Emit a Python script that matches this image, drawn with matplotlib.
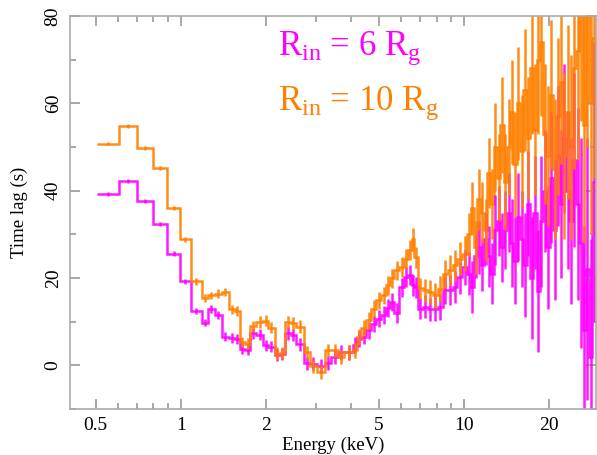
import numpy as np
import matplotlib
matplotlib.use('Agg')
import matplotlib.pyplot as plt
from matplotlib.ticker import FixedLocator, NullFormatter, MultipleLocator

plt.rcParams['font.family'] = ['Liberation Serif', 'DejaVu Serif']
plt.rcParams['mathtext.fontset'] = 'custom'
plt.rcParams['mathtext.rm'] = 'Liberation Serif'
plt.rcParams['mathtext.it'] = 'Liberation Serif:italic'

# bin edges in keV (same binning for both curves)
edges = [0.507, 0.605, 0.702, 0.795, 0.895, 0.992, 1.084, 1.183, 1.248, 1.317,
         1.391, 1.479, 1.546, 1.613, 1.684, 1.760, 1.847, 1.949, 2.030, 2.143,
         2.232, 2.324, 2.440, 2.555, 2.711, 2.846, 3.019, 3.214, 3.394, 3.580,
         3.780, 4.044, 4.201, 4.338, 4.507, 4.695, 4.889, 5.091, 5.301, 5.476,
         5.670, 5.904, 6.148, 6.351, 6.523, 6.668, 6.846, 7.132, 7.427, 7.734,
         8.054, 8.387, 8.735, 9.096, 9.472, 9.863, 10.27, 10.548, 10.834, 11.128,
         11.429, 11.739, 12.057, 12.384, 12.719, 13.064, 13.418, 13.781, 14.155, 14.538,
         14.932, 15.337, 15.752, 16.179, 16.618, 17.068, 17.530, 18.005, 18.493, 18.994,
         19.509, 20.038, 20.581, 21.138, 21.711, 22.299, 22.903, 23.524, 24.161, 24.816,
         25.488, 26.179, 26.888, 27.617, 28.365, 29.134]

# R_in = 6 Rg (magenta)
lag_6 = [39.2, 42.2, 37.6, 32.3, 25.6, 19.2, 12.4, 9.8, 13.0, 11.5,
         6.6, 6.3, 6.0, 3.8, 3.6, 7.3, 7.0, 4.6, 4.3, 2.4,
         2.6, 7.3, 6.9, 4.8, 0.5, 0.4, -0.2, 0.5, 1.9, 3.0,
         3.0, 4.6, 6.1, 6.6, 8.0, 9.5, 10.7, 11.5, 13.2, 14.5,
         12.0, 17.9, 20.2, 20.6, 18.3, 17.9, 13.0, 13.4, 12.8, 13.0,
         13.4, 17.2, 17.2, 17.9, 20.2, 22.5,
         21, 18, 25, 27, 23, 29, 25, 21, 31, 33,
         27, 31, 35, 28, 24, 34, 29, 23, 37, 20,
         35, 17, 33, 40, 27, 43, 31, 48, 37, 52,
         40, 33, 47, 37, 28, 8, 22, 2, 42]
err_6 = [0.4, 0.4, 0.4, 0.5, 0.5, 0.6, 0.7, 0.9, 0.9, 1.0,
         1.0, 1.1, 1.1, 1.2, 1.2, 1.2, 1.3, 1.3, 1.3, 1.4,
         1.4, 1.4, 1.4, 1.5, 1.5, 1.5, 1.6, 1.6, 1.6, 1.7,
         1.7, 1.8, 1.8, 1.8, 1.9, 1.9, 2.0, 2.0, 2.1, 2.1,
         2.2, 2.2, 2.3, 2.3, 2.4, 2.4, 2.5, 2.6, 2.7, 2.8,
         3.0, 3.2, 3.4, 3.6, 3.8, 4.0,
         5, 6, 5, 6, 6, 6, 7, 7, 8, 8,
         8, 9, 9, 10, 10, 10, 11, 12, 12, 14,
         13, 14, 15, 14, 14, 15, 16, 16, 17, 17,
         18, 19, 20, 22, 24, 24, 30, 27, 32]

# R_in = 10 Rg (orange)
lag_10 = [50.8, 54.8, 49.8, 45.2, 36.0, 28.9, 19.2, 15.4, 16.0, 16.4,
          16.8, 12.8, 12.4, 5.3, 5.0, 8.9, 9.9, 10.2, 8.6, 2.7,
          2.9, 10.0, 9.6, 8.8, 3.0, -0.2, -1.5, 3.4, 3.4, 1.9,
          3.0, 3.4, 6.5, 8.6, 10.3, 13.0, 14.9, 16.0, 18.3, 19.9,
          21.8, 22.5, 24.4, 26.5, 29.0, 24.8, 17.6, 17.2, 16.8, 16.0,
          17.5, 21.0, 21.8, 22.9, 24.4, 25.6,
          30, 36, 27, 38, 35, 31, 44, 37, 50, 43,
          55, 42, 50, 58, 46, 60, 49, 63, 52, 68,
          54, 70, 74, 53, 48, 62, 45, 57, 65, 48,
          58, 50, 68, 72, 84, 55, 80, 60, 75]
err_10 = [0.4, 0.4, 0.4, 0.5, 0.5, 0.6, 0.7, 0.9, 0.9, 1.0,
          1.0, 1.1, 1.1, 1.2, 1.2, 1.2, 1.3, 1.3, 1.3, 1.4,
          1.4, 1.4, 1.4, 1.5, 1.5, 1.5, 1.6, 1.6, 1.6, 1.7,
          1.7, 1.8, 1.8, 1.8, 1.9, 1.9, 2.0, 2.0, 2.1, 2.1,
          2.2, 2.2, 2.3, 2.3, 2.4, 2.4, 2.5, 2.6, 2.7, 2.8,
          3.0, 3.2, 3.4, 3.6, 3.8, 4.0,
          5, 6, 6, 7, 7, 7, 8, 8, 10, 10,
          11, 11, 11, 12, 12, 13, 13, 14, 14, 15,
          15, 17, 17, 16, 16, 17, 16, 18, 19, 19,
          20, 21, 23, 25, 28, 27, 30, 30, 32]

xticks = [0.5, 1, 2, 5, 10, 20]
xticklabels = ['0.5', '1', '2', '5', '10', '20']

magenta = '#ff00ff'
orange = '#ff8000'

edges_a = np.array(edges)
centers = np.sqrt(edges_a[:-1] * edges_a[1:])

fig = plt.figure(figsize=(5.97, 4.55), dpi=100)
ax = fig.add_axes([0.1173, 0.1011, 0.881, 0.8637])

for lag, err, col in [(lag_6, err_6, magenta), (lag_10, err_10, orange)]:
    ax.stairs(lag, edges, baseline=None, color=col, lw=1.8, alpha=0.9)
    ax.errorbar(centers, lag, yerr=err, fmt='none', ecolor=col, elinewidth=1.8, alpha=0.9)

ax.set_xscale('log')
ax.set_xlim(0.406, 29.2)
ax.set_ylim(-10, 80)
ax.set_xticks(xticks)
ax.set_xticklabels(xticklabels)
ax.xaxis.set_minor_locator(FixedLocator([0.6, 0.7, 0.8, 0.9, 3, 4, 6, 7, 8, 9]))
ax.xaxis.set_minor_formatter(NullFormatter())
ax.yaxis.set_major_locator(MultipleLocator(20))
ax.yaxis.set_minor_locator(MultipleLocator(10))
for lab in ax.get_yticklabels():
    lab.set_rotation(90)
    lab.set_va('center')

ax.tick_params(which='both', direction='in', top=True, right=True, color='#999999', width=1.2)
ax.tick_params(which='major', length=7, labelsize=14, pad=6)
ax.tick_params(which='minor', length=4)
for s in ax.spines.values():
    s.set_color('#aaaaaa')
    s.set_linewidth(1.2)

ax.set_xlabel('Energy (keV)', fontsize=13.5, labelpad=2)
ax.set_ylabel('Time lag (s)', fontsize=13.5, labelpad=12)

ax.text(0.395, 0.901, r'R$_\mathrm{in}$ = 6 R$_\mathrm{g}$', color=magenta, fontsize=25, transform=ax.transAxes)
ax.text(0.395, 0.761, r'R$_\mathrm{in}$ = 10 R$_\mathrm{g}$', color=orange, fontsize=25, transform=ax.transAxes)

plt.savefig('out.png', dpi=100)
